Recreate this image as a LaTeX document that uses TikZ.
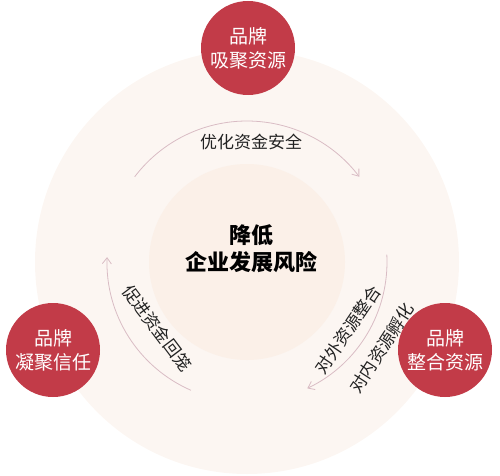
\documentclass[tikz,border=0pt]{standalone}
\usepackage{fontspec}
\setmainfont{Noto Sans CJK SC}
\newfontfamily\cjkb{Noto Sans CJK SC Bold}
\usetikzlibrary{arrows.meta}
\definecolor{brandred}{HTML}{C23B48}
\definecolor{outerbg}{HTML}{FCF6F2}
\definecolor{innerbg}{HTML}{FBF0E8}
\definecolor{arcpink}{HTML}{D9BCC4}
\definecolor{labelgray}{HTML}{222222}
\tikzset{
  redball/.style={circle, fill=brandred, minimum size=94pt, inner sep=0pt, text=white,
    font=\fontsize{19}{24}\selectfont, align=center},
  flowarc/.style={draw=arcpink, line width=0.8pt, -{Straight Barb[length=6pt,width=9pt]}},
  arclabel/.style={text=labelgray, font=\fontsize{17}{20}\selectfont, inner sep=0pt},
}
\begin{document}
\begin{tikzpicture}[x=1pt,y=1pt]
\useasboundingbox (0,0) rectangle (500,475);
\coordinate (c) at (247,213);
\begin{scope}
\clip (0,0) rectangle (500,475);
\fill[outerbg] (c) circle (212);
\end{scope}
\fill[innerbg] (c) circle (98);
% arcs
\draw[flowarc] ([shift={(142.8:141)}]c) arc[start angle=142.8, end angle=37.2, radius=141];
\draw[flowarc] ([shift={(3:140)}]c) arc[start angle=3, end angle=-64.5, radius=140];
\draw[flowarc] ([shift={(246.4:140)}]c) arc[start angle=246.4, end angle=178, radius=140];
% red circles
\node[redball] (top) at (248,427) {品牌\\吸聚资源};
\node[redball] (left) at (53,125) {品牌\\凝聚信任};
\node[redball] (right) at (445,125) {品牌\\整合资源};
% centre
\node[font=\fontsize{22}{27}\selectfont\bfseries, align=center, text=black] (core) at (251,226) {降低\\企业发展风险};
% labels
\node[arclabel] (l1) at (251,333) {优化资金安全};
\node[arclabel, rotate=56] (l2) at (348,145) {对外资源整合};
\node[arclabel, rotate=57] (l3) at (382,127) {对内资源孵化};
\node[arclabel, rotate=-53] (l4) at (157,147) {促进资金回笼};
\end{tikzpicture}
\end{document}
